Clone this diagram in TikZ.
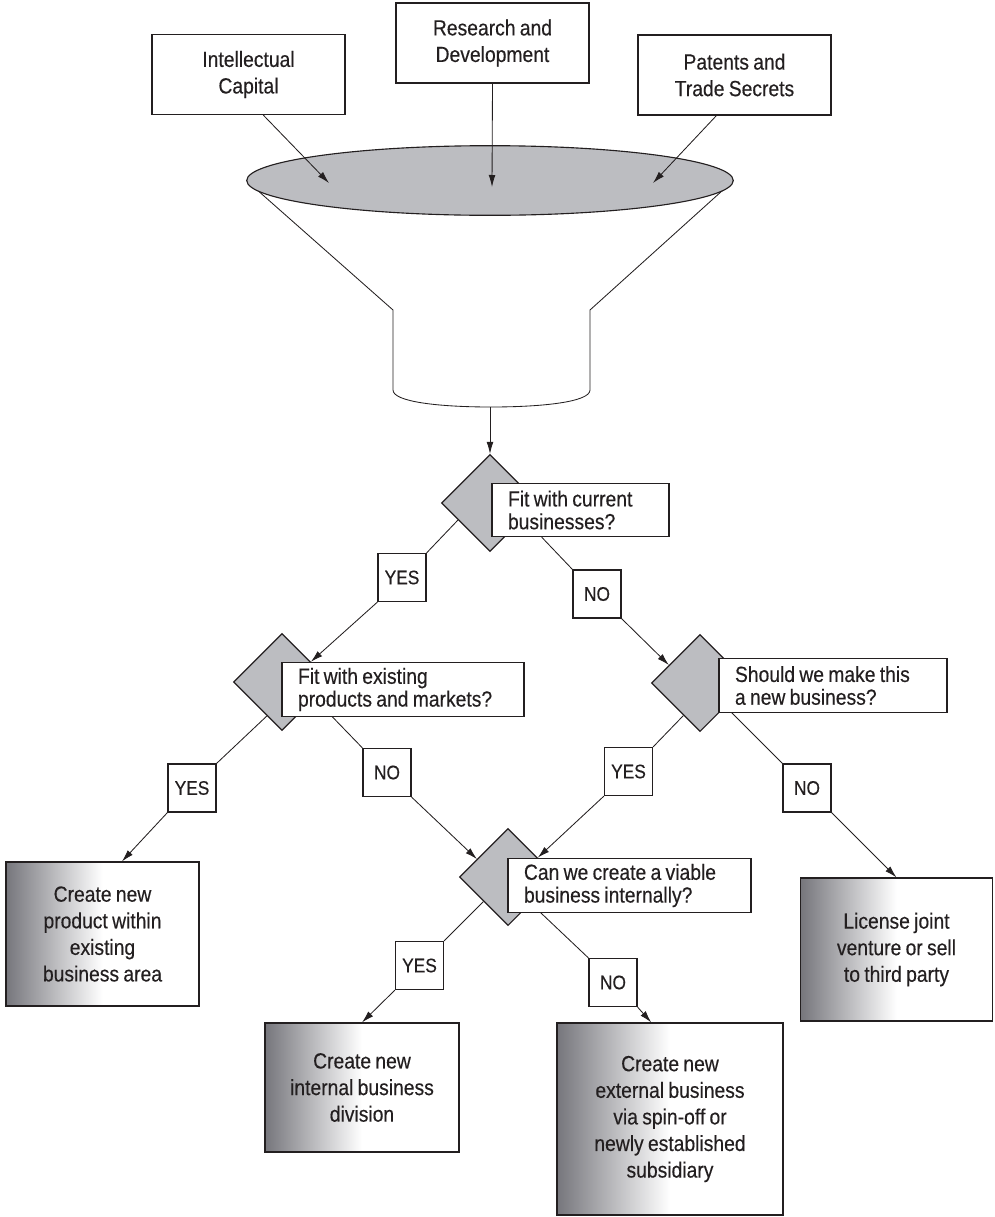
\documentclass[tikz,border=0pt]{standalone}
\usepackage{fontspec}
\setmainfont{Liberation Sans}[FakeStretch=0.88, WordSpace=0.8, FakeBold=0.3]
\usetikzlibrary{shapes.geometric,arrows.meta}
\definecolor{funnelgray}{RGB}{188,189,193}
\definecolor{fadedark}{RGB}{118,118,124}
\definecolor{inkgray}{RGB}{35,31,32}
\pgfdeclarehorizontalshading{boxfade}{100bp}{color(0bp)=(fadedark); color(25bp)=(fadedark); color(50bp)=(white); color(100bp)=(white)}

\begin{document}
\begin{tikzpicture}[x=0.025cm, y=-0.025cm, color=inkgray, line width=0.6pt,
    srcbox/.style={draw, line width=0.8pt, fill=white, minimum width=4.825cm, minimum height=2cm, align=center, font=\fontsize{15.6}{18.9}\selectfont},
    ansbox/.style={draw, line width=0.8pt, shading=boxfade, align=center, font=\fontsize{15.6}{18.9}\selectfont},
    choice/.style={diamond, draw, line width=0.8pt, fill=funnelgray, minimum width=2.425cm, minimum height=2.425cm, inner sep=0pt},
    qbox/.style={draw, line width=0.8pt, fill=white, align=flush left, text width=#1, inner xsep=0.4cm, inner ysep=0pt, minimum height=1.33cm, font=\fontsize{15.6}{16.2}\selectfont},
    tag/.style={draw, line width=0.8pt, fill=white, minimum width=1.2cm, minimum height=1.2cm, inner sep=0pt, font=\fontsize{14}{14}\selectfont},
    flow/.style={-{Latex[length=3mm,width=1.7mm]}}]
    \useasboundingbox (0,0) rectangle (994,1217);

    % 来源
    \node[srcbox] (ic) at (248.5,74.5) {Intellectual\\Capital};
    \node[srcbox] (rd) at (492.5,43) {Research and\\Development};
    \node[srcbox] (pts) at (734.5,75) {Patents and\\Trade Secrets};

    % 漏斗
    \draw (247,181) -- (393,310) -- (393,390) .. controls (393,402) and (440,407) .. (491,407)
        .. controls (542,407) and (590,402) .. (590,390) -- (590,310) -- (733,181);
    \draw[line width=0.8pt, fill=funnelgray] (490,180.5) ellipse [x radius=6.08cm, y radius=0.87cm];
    \coordinate (icin) at (329,183);
    \coordinate (rdin) at (492,187);
    \coordinate (ptsin) at (653,183);
    \coordinate (spout) at (490,407);
    \draw[flow] (ic.-70) -- (icin);
    \draw[flow] (rd.south) -- (rdin);
    \draw[flow] (pts.-114) -- (ptsin);

    % 判断
    \node[choice] (d1) at (490,503) {};
    \node[choice] (d2) at (282,682) {};
    \node[choice] (d3) at (700,683) {};
    \node[choice] (d4) at (508,877) {};
    \node[qbox=3.625cm] (q1) at (580.5,510) {Fit with current\\businesses?};
    \node[qbox=5.25cm] (q2) at (403,689.5) {Fit with existing\\products and markets?};
    \node[qbox=4.9cm] (q3) at (833,685.5) {Should we make this\\a new business?};
    \node[qbox=5.275cm] (q4) at (629.5,885.5) {Can we create a viable\\business internally?};

    % 是/否
    \node[tag] (y1) at (402,577.5) {YES};
    \node[tag] (n1) at (597,594) {NO};
    \node[tag] (y2) at (192,788) {YES};
    \node[tag] (n2) at (387,772.5) {NO};
    \node[tag] (y3) at (628.5,771.5) {YES};
    \node[tag] (n3) at (807,788) {NO};
    \node[tag] (y4) at (419.5,965.5) {YES};
    \node[tag] (n4) at (613,982.5) {NO};

    % 结果
    \node[ansbox, minimum width=4.825cm, minimum height=3.6cm] (prod) at (102.5,934) {Create new\\product within\\existing\\business area};
    \node[ansbox, minimum width=4.85cm, minimum height=3.225cm] (intdiv) at (362,1087.5) {Create new\\internal business\\division};
    \node[ansbox, minimum width=5.65cm, minimum height=4.8cm] (extdiv) at (670,1119) {Create new\\external business\\via spin-off or\\newly established\\subsidiary};
    \node[ansbox, minimum width=4.8cm, minimum height=3.575cm] (lic) at (896.5,949.5) {License joint\\venture or sell\\to third party};

    % 连线
    \draw[flow] (spout) -- (d1.north);
    \draw (d1.208) -- (y1.north east);
    \draw[flow] (y1.south west) -- (d2.35);
    \draw (q1.215) -- (n1.north west);
    \draw[flow] (n1.south east) -- (d3.150);
    \draw (d2.246) -- (y2.north east);
    \draw[flow] (y2.south west) -- (prod.75);
    \draw (q2.201) -- (n2.north west);
    \draw[flow] (n2.south east) -- (d4.150);
    \draw (d3.243) -- (y3.north east);
    \draw[flow] (y3.south west) -- (d4.33);
    \draw (q3.195) -- (n3.north west);
    \draw[flow] (n3.south east) -- (lic.north);
    \draw (d4.225) -- (y4.north east);
    \draw[flow] (y4.south west) -- (intdiv.north);
    \draw (q4.197) -- (n4.north west);
    \draw[flow] (n4.south east) -- (extdiv.101);
\end{tikzpicture}
\end{document}
